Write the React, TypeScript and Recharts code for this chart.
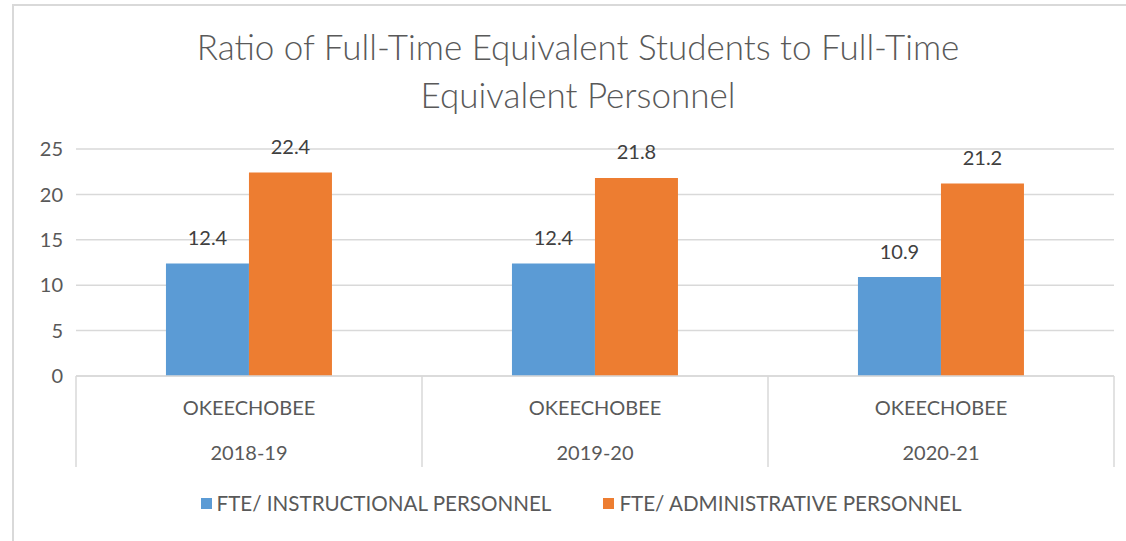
import { BarChart, Bar, XAxis, YAxis, CartesianGrid, LabelList } from 'recharts';

// ratios
const districts = ['OKEECHOBEE', 'OKEECHOBEE', 'OKEECHOBEE'];
const years = ['2018-19', '2019-20', '2020-21'];
const instructional = [12.4, 12.4, 10.9];
const administrative = [22.4, 21.8, 21.2];
const yTicks = [0, 5, 10, 15, 20, 25];

const seriesNames = ['FTE/ INSTRUCTIONAL PERSONNEL', 'FTE/ ADMINISTRATIVE PERSONNEL'];
const colors = ['#5B9BD5', '#ED7D31'];

const data = years.map((year, i) => ({
  year,
  district: districts[i],
  instructional: instructional[i],
  administrative: administrative[i],
}));

const FONT = 'Lato, "Open Sans", sans-serif';

function CategoryTick(props: any) {
  const { x, y, payload, index } = props;
  const half = payload.offset || 0;
  const row = data[index];
  return (
    <g>
      <line x1={x - half} y1={y - 8} x2={x - half} y2={y + 83} stroke="#D9D9D9" strokeWidth={1.5} />
      {index === data.length - 1 && (
        <line x1={x + half} y1={y - 8} x2={x + half} y2={y + 83} stroke="#D9D9D9" strokeWidth={1.5} />
      )}
      <text x={x} y={y + 31} textAnchor="middle" fill="#595959" fontSize={20} fontFamily={FONT}>
        {row.district}
      </text>
      <text x={x} y={y + 76} textAnchor="middle" fill="#595959" fontSize={20} fontFamily={FONT}>
        {payload.value}
      </text>
    </g>
  );
}

export default function App() {
  return (
    <div style={{ position: 'absolute', left: 0, top: 0, width: 1126, height: 541, background: '#fff', overflow: 'hidden' }}>
      <div style={{ position: 'absolute', left: 12, top: 4, right: -2, bottom: -2, borderLeft: '2px solid #D9D9D9', borderTop: '2px solid #D9D9D9' }} />
      <div
        style={{
          position: 'absolute',
          left: 0,
          top: 22,
          width: 1156,
          textAlign: 'center',
          fontFamily: FONT,
          fontWeight: 300,
          fontSize: 35,
          lineHeight: '48px',
          color: '#595959',
        }}
      >
        Ratio of Full-Time Equivalent Students to Full-Time
        <br />
        Equivalent Personnel
      </div>
      <div style={{ position: 'absolute', left: 0, top: 0 }}>
        <BarChart
          width={1126}
          height={541}
          data={data}
          margin={{ top: 149, right: 12, bottom: 73, left: 16 }}
          barCategoryGap="26%"
          barGap={0}
        >
          <CartesianGrid vertical={false} stroke="#D9D9D9" strokeWidth={1.5} />
          <YAxis
            domain={[0, 25]}
            ticks={yTicks}
            width={60}
            axisLine={false}
            tickLine={false}
            tickMargin={7}
            tick={{ fill: '#595959', fontSize: 20, fontFamily: FONT }}
          />
          <XAxis
            dataKey="year"
            axisLine={{ stroke: '#D9D9D9', strokeWidth: 1.5 }}
            tickLine={false}
            interval={0}
            height={92}
            tick={<CategoryTick />}
          />
          <Bar dataKey="instructional" name={seriesNames[0]} fill={colors[0]} isAnimationActive={false}>
            <LabelList dataKey="instructional" position="top" offset={18} fill="#404040" fontSize={20} fontFamily={FONT} />
          </Bar>
          <Bar dataKey="administrative" name={seriesNames[1]} fill={colors[1]} isAnimationActive={false}>
            <LabelList dataKey="administrative" position="top" offset={19} fill="#404040" fontSize={20} fontFamily={FONT} />
          </Bar>
        </BarChart>
      </div>
      <div
        style={{
          position: 'absolute',
          left: 0,
          top: 491,
          width: 1162,
          display: 'flex',
          justifyContent: 'center',
          gap: 52,
          fontFamily: FONT,
          fontSize: 20.6,
          color: '#595959',
        }}
      >
        {seriesNames.map((name, i) => (
          <div key={name} style={{ display: 'flex', alignItems: 'center' }}>
            <span style={{ width: 11, height: 11, background: colors[i], display: 'inline-block', marginRight: 5 }} />
            <span>{name}</span>
          </div>
        ))}
      </div>
    </div>
  );
}
